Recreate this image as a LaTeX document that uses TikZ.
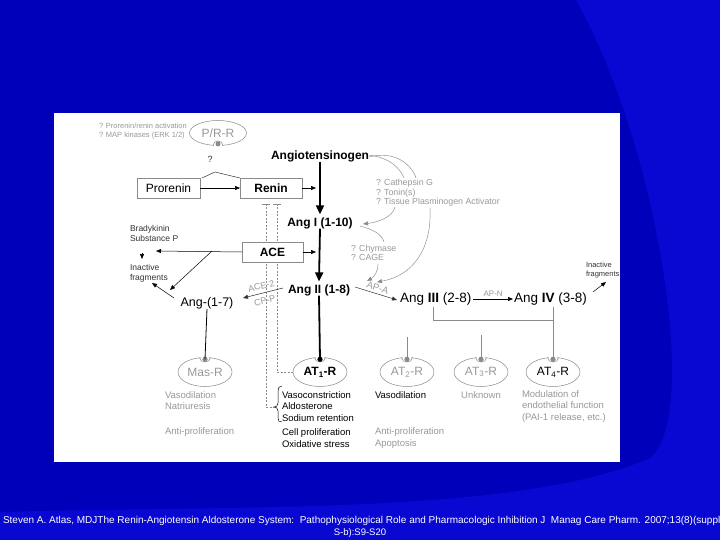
\documentclass[tikz,border=0pt]{standalone}
\usepackage{fontspec}
\setmainfont{Liberation Sans}
\usetikzlibrary{arrows.meta,shapes.geometric}
\definecolor{bgdark}{HTML}{0000BB}
\definecolor{bglight}{HTML}{0808D2}
\definecolor{gtxt}{HTML}{999999}
\definecolor{gline}{HTML}{8A8A8A}
\definecolor{dtxt}{HTML}{333333}
\newcommand\recep[6]{% name, x, y, label, text colour, dot colour
  \node[rec, text=#5] (#1) at (#2,#3) {#4};
  \fill[white] (#1.north) circle (4.2pt);
  \draw[gline, line width=0.5pt] ([xshift=-5.5pt]#1.north) .. controls +(0,6) and +(0,6) .. ([xshift=5.5pt]#1.north);
  \fill[#6] ([yshift=-1.8pt]#1.north) circle (2.6pt);
  \coordinate (#1d) at ([yshift=-1.8pt]#1.north);
}
\begin{document}
\begin{tikzpicture}[x=1pt,y=-1pt,
  every node/.style={inner sep=0pt, outer sep=0pt},
  box/.style={draw=gline, line width=0.6pt, fill=white, minimum height=20pt, font=\fontsize{12}{13}\selectfont},
  big/.style={font=\bfseries\fontsize{12}{13}\selectfont},
  mid/.style={font=\fontsize{12.5}{13}\selectfont},
  small/.style={font=\fontsize{8.8}{9.5}\selectfont, text=gtxt, align=left},
  tiny/.style={font=\fontsize{7.5}{9}\selectfont, text=gtxt, align=left},
  eff/.style={font=\fontsize{9.5}{11.5}\selectfont, align=left},
  rec/.style={ellipse, draw=gline, line width=0.5pt, minimum width=54pt, minimum height=29pt, font=\fontsize{12}{13}\selectfont},
  thinl/.style={line width=0.5pt},
  tip/.style={-{Triangle[length=5pt,width=4pt]}},
  bigtip/.style={-{Triangle[length=9pt,width=8pt]}},
  dsh/.style={gline, line width=0.5pt, dash pattern=on 2pt off 1.5pt},
]
\useasboundingbox (0,0) rectangle (720,540);
% background
\fill[bgdark] (0,0) rectangle (720,540);
\fill[bglight] (576,0) .. controls (660,150) and (700,420) .. (650,458)
  .. controls (520,515) and (250,505) .. (0,512) -- (0,540) -- (720,540) -- (720,0) -- cycle;
\fill[white] (54,113) rectangle (620,462);

% top left
\node[tiny, anchor=west] (prtxt) at (99,131.5) {? Prorenin/renin activation\\? MAP kinases (ERK 1/2)};
\node[ellipse, draw=gline, line width=0.5pt, minimum width=57pt, minimum height=25pt, text=gtxt, font=\fontsize{12}{13}\selectfont] (prr) at (218,133) {P/R-R};
\fill[white] (prr.south) circle (4pt);
\draw[gline, line width=0.5pt] ([xshift=-5pt]prr.south) .. controls +(0,-6) and +(0,-6) .. ([xshift=5pt]prr.south);
\fill[gline] ([yshift=1.6pt]prr.south) circle (2.5pt);
\node[font=\fontsize{9}{10}\selectfont, text=dtxt] (q) at (210,159) {?};

% prorenin / renin
\node[box, minimum width=63pt] (pro) at (168.5,188) {Prorenin};
\node[box, minimum width=62pt, font=\bfseries\fontsize{12}{13}\selectfont] (ren) at (271,188) {Renin};
\draw[thinl, tip] (pro.east) -- (ren.west);
\coordinate (h1) at (202,178);
\coordinate (h2) at (215,172);
\coordinate (h3) at (240,178);
\draw[thinl, dtxt] (h1) -- (h2) -- (h3);

% main cascade
\node[big] (ago) at (320,156) {Angiotensinogen};
\node[big] (ang1) at (320,223) {Ang I (1-10)};
\node[big] (ang2) at (319,290) {Ang II (1-8)};

% dashed inhibitor lines (behind ACE)
\coordinate (dl1) at (266,204);
\coordinate (dl2) at (266,407);
\coordinate (dl3) at (274,407);
\coordinate (dr1) at (277,204);
\coordinate (dr2) at (277,372);
\draw[dsh] (dl1) -- (dl2) -- (dl3);
\draw[dsh] (dr1) -- (dr2);
\draw[gline, line width=0.6pt] (262,204) -- (270,204) (273,204) -- (281,204);

\node[box, minimum width=61pt, font=\bfseries\fontsize{12}{13}\selectfont] (ace) at (272.5,252) {ACE};

\draw[line width=1.8pt, bigtip] (ago.south) -- ([yshift=3pt]ang1.north);
\draw[line width=1.8pt, bigtip] (ang1.south) -- ([yshift=3pt]ang2.north);
\coordinate (renx) at (316,188);
\coordinate (acex) at (316,252);
\draw[thinl, tip] (ren.east) -- (renx);
\draw[thinl, tip] (ace.east) -- (acex);

% ACE side products
\node[font=\fontsize{8.5}{10}\selectfont, text=dtxt, align=left, anchor=west] (brad) at (130,233) {Bradykinin\\Substance P};
\node[font=\fontsize{8.5}{10}\selectfont, text=dtxt, align=left, anchor=west] (inact1) at (130,273) {Inactive\\fragments};
\coordinate (bradtip) at (156,251);
\coordinate (br) at (212,251);
\coordinate (a17tip) at (170,290);
\draw[thinl, tip] (ace.west) -- (bradtip);
\draw[thinl, tip] (br) -- (a17tip);
\coordinate (bi1) at (142,253);
\coordinate (bi2) at (142,259);
\draw[thinl, tip] (bi1) -- (bi2);

\node[mid] (a17) at (207,303) {Ang-(1-7)};
\coordinate (ia1) at (174,298);
\coordinate (ia2) at (152,283);
\draw[thinl, tip] (ia1) -- (ia2);

% ACE-2 / CP-P
\coordinate (c2a) at (283,288);
\coordinate (c2b) at (243,298);
\draw[thinl, dtxt, tip] (c2a) -- node[sloped, above=4pt, font=\fontsize{9}{10}\selectfont, text=gtxt] {ACE-2} node[sloped, below=4.5pt, font=\fontsize{9}{10}\selectfont, text=gtxt] {CP-P} (c2b);

% Ang III / IV
\node[mid, anchor=west, font=\fontsize{13.5}{14}\selectfont] (ang3) at (400,299) {Ang \textbf{III} (2-8)};
\node[mid, anchor=west, font=\fontsize{13.5}{14}\selectfont] (ang4) at (514,299) {Ang \textbf{IV} (3-8)};
\coordinate (apa1) at (355,287);
\coordinate (apa2) at (397,300);
\draw[thinl, dtxt, tip] (apa1) -- node[sloped, above=2.5pt, font=\fontsize{9.5}{10}\selectfont, text=gtxt] {AP-A} (apa2);
\draw[thinl, tip] ([xshift=2pt]ang3.east) -- node[above=2.5pt, font=\fontsize{8}{9}\selectfont, text=gtxt] {AP-N} ([xshift=-1pt]ang4.west);
\node[font=\fontsize{7.5}{9.5}\selectfont, text=dtxt, align=left, anchor=west] (inact2) at (586,270) {Inactive\\fragments};
\coordinate (i2a) at (593,292);
\coordinate (i2b) at (606,282);
\draw[thinl, tip] (i2a) -- (i2b);

% right-side protease curves
\node[small, anchor=west] (cath) at (376,193) {? Cathepsin G\\? Tonin(s)\\? Tissue Plasminogen Activator};
\node[small, anchor=west] (chy) at (351,253) {? Chymase\\? CAGE};
\draw[gline, line width=0.45pt] ([yshift=-1pt]ago.east) .. controls (395,150) and (412,165) .. (416,178);
\draw[gline, line width=0.45pt] ([yshift=1pt]ago.east) .. controls (390,158) and (400,168) .. (404,178);
\coordinate (ct1) at (395,207);
\coordinate (ct2) at (363,224);
\draw[gline, line width=0.45pt, tip] (ct1) .. controls (393,216) and (380,222) .. (ct2);
\coordinate (ch0) at (360,226);
\coordinate (ch1) at (384,242);
\draw[gline, line width=0.45pt] (ch0) .. controls (372,229) and (382,234) .. (ch1);
\coordinate (ch2) at (378,264);
\coordinate (ch3) at (367,281);
\draw[gline, line width=0.45pt, tip] (ch2) .. controls (378,272) and (374,277) .. (ch3);
\coordinate (lc1) at (430,208);
\coordinate (lc2) at (377,282);
\draw[gline, line width=0.45pt, tip] (lc1) .. controls (432,250) and (412,276) .. (lc2);

% receptors
\recep{mas}{205}{372}{Mas-R}{gtxt}{gline}
\recep{at1}{320}{372}{\textbf{AT\textsubscript{1}-R}}{black}{black}
\recep{at2}{407}{372}{AT\textsubscript{2}-R}{gtxt}{gline}
\recep{at3}{481}{372}{AT\textsubscript{3}-R}{gtxt}{gline}
\recep{at4}{553}{372}{AT\textsubscript{4}-R}{black}{gline}

\draw[line width=1.8pt] (ang2.south) -- (at1d);
\draw[line width=0.8pt] (a17.south) -- (masd);
\draw[dsh] (dr2) -- (at1.west);
\coordinate (a2t) at (407,337);
\coordinate (a3t) at (481,335);
\draw[gline, line width=0.7pt] (a2t) -- (at2d);
\draw[gline, line width=0.7pt] (a3t) -- (at3d);
\coordinate (b1) at (433,307);
\coordinate (b2) at (433,320);
\coordinate (b3) at (553,320);
\coordinate (b4) at (553,307);
\draw[gline, line width=0.7pt] (b1) -- (b2) -- (b3);
\draw[gline, line width=0.7pt] (b4) -- (at4d);

% effects
\draw[thinl] (282,386) .. controls (279,386) and (278,388) .. (278,391) -- (278,403)
  .. controls (278,406) and (276,407) .. (dl3) .. controls (276,407) and (278,408) .. (278,411)
  -- (278,418) .. controls (278,421) and (279,422) .. (282,422);
\node[eff, anchor=west] (e1) at (282,406.5) {Vasoconstriction\\Aldosterone\\Sodium retention};
\node[eff, anchor=west] (e2) at (282,438) {Cell proliferation\\Oxidative stress};
\node[eff, anchor=west, text=gtxt] (m1) at (165,400.5) {Vasodilation\\Natriuresis};
\node[eff, anchor=west, text=gtxt] (m2) at (165,432) {Anti-proliferation};
\node[eff, anchor=west] (v2) at (375,395) {Vasodilation};
\node[eff, anchor=west, text=gtxt] (v3) at (375,438) {Anti-proliferation\\Apoptosis};
\node[eff, text=gtxt] (unk) at (481,395) {Unknown};
\node[eff, anchor=west, text=gtxt] (mod) at (522,406.5) {Modulation of\\endothelial function\\(PAI-1 release, etc.)};

% caption
\node[anchor=west, text=white, font=\fontsize{10}{11}\selectfont] (cap1) at (3,521) {Steven A. Atlas, MDJThe Renin-Angiotensin Aldosterone System:\ \ Pathophysiological Role and Pharmacologic Inhibition J\ \ Manag Care Pharm. 2007;13(8)(suppl};
\node[text=white, font=\fontsize{9.5}{10}\selectfont] (cap2) at (360,533) {S-b):S9-S20};
\end{tikzpicture}
\end{document}
